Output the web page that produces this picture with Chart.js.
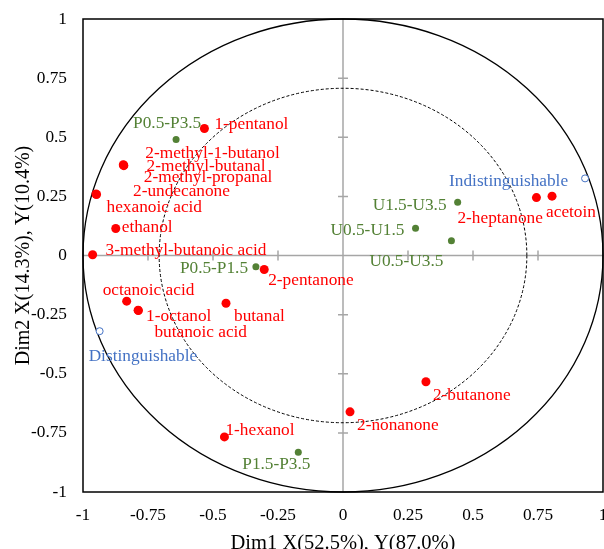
<!DOCTYPE html>
<html>
<head>
<meta charset="utf-8">
<script src="https://cdn.jsdelivr.net/npm/chart.js@4.4.1/dist/chart.umd.min.js"></script>
<style>
  html, body { margin: 0; padding: 0; background: #ffffff; }
  canvas { display: block; }
</style>
</head>
<body>
<canvas id="chart" width="604" height="549"></canvas>
<script>
'use strict';

const compoundNames = [
  '1-pentanol', '2-methyl-1-butanol', '2-methyl-butanal', '2-methyl-propanal',
  '2-undecanone', 'hexanoic acid', 'ethanol', '3-methyl-butanoic acid',
  '2-pentanone', 'octanoic acid', '1-octanol', 'butanoic acid', 'butanal',
  '1-hexanol', '2-butanone', '2-nonanone', '2-heptanone', 'acetoin',
];
const compoundX = [-0.533, -0.845, -0.844, -0.843, -0.950, -0.948, -0.874, -0.963,
  -0.303, -0.832, -0.788, -0.787, -0.450, -0.456, 0.319, 0.027, 0.744, 0.804];
const compoundY = [0.537, 0.384, 0.382, 0.380, 0.260, 0.258, 0.114, 0.003,
  -0.059, -0.193, -0.231, -0.233, -0.202, -0.767, -0.534, -0.661, 0.245, 0.251];

const treatmentNames = ['P0.5-P3.5', 'P0.5-P1.5', 'P1.5-P3.5', 'U1.5-U3.5', 'U0.5-U1.5', 'U0.5-U3.5'];
const treatmentX = [-0.642, -0.335, -0.172, 0.441, 0.279, 0.417];
const treatmentY = [0.490, -0.048, -0.832, 0.225, 0.115, 0.062];

const refNames = ['Indistinguishable', 'Distinguishable'];
const refX = [0.931, -0.936];
const refY = [0.326, -0.320];

const axisTicks = [-1, -0.75, -0.5, -0.25, 0, 0.25, 0.5, 0.75, 1];

// --- Posición de las etiquetas (desplazamiento en px desde el punto) ---
const compoundLabelDx = [10, 22, 23, 20, 37, 10, 6, 13, 4, -24, 8, 16, 8, 1, 7, 7, -79, -6];
const compoundLabelDy = [-6, -13, -1, 10, -5, 11, -3, -6, 9, -13, 4, 20, 11, -8, 12, 12, 19, 14];
const treatmentLabelDx = [-43, -76, -56, -85, -85, -82];
const treatmentLabelDy = [-18, 0, 10, 1, 0, 19];
const refLabelDx = [-136, -11];
const refLabelDy = [1, 23];

// --- Estilos ---
const FONT = "'Liberation Serif', 'Times New Roman', serif";
const RED = '#ff0000';
const GREEN = '#538135';
const BLUE = '#4472c4';
const AXIS_GRAY = '#a6a6a6';

const toPoints = (xs, ys) => xs.map((x, i) => ({ x, y: ys[i] }));

// Círculos, ejes en cero y marco
const backgroundPlugin = {
  id: 'background',
  beforeDatasetsDraw(chart) {
    const { ctx, chartArea: a, scales: { x, y } } = chart;
    const cx = x.getPixelForValue(0);
    const cy = y.getPixelForValue(0);
    const rx1 = x.getPixelForValue(1) - cx;
    const ry1 = cy - y.getPixelForValue(1);
    const r2 = Math.sqrt(0.5);
    const rx2 = x.getPixelForValue(r2) - cx;
    const ry2 = cy - y.getPixelForValue(r2);

    ctx.save();
    // ejes grises por cero
    ctx.strokeStyle = AXIS_GRAY;
    ctx.lineWidth = 1.5;
    ctx.beginPath();
    ctx.moveTo(a.left, cy); ctx.lineTo(a.right, cy);
    ctx.moveTo(cx, a.top); ctx.lineTo(cx, a.bottom);
    axisTicks.forEach(v => {
      if (v === 0 || Math.abs(v) === 1) return;
      const px = x.getPixelForValue(v);
      const py = y.getPixelForValue(v);
      ctx.moveTo(px, cy - 5); ctx.lineTo(px, cy + 5);
      ctx.moveTo(cx - 5, py); ctx.lineTo(cx + 5, py);
    });
    ctx.stroke();

    // círculo exterior (r = 1)
    ctx.strokeStyle = '#000000';
    ctx.lineWidth = 1.3;
    ctx.beginPath();
    ctx.ellipse(cx, cy, rx1, ry1, 0, 0, Math.PI * 2);
    ctx.stroke();

    // círculo interior discontinuo (r = sqrt(0.5))
    ctx.lineWidth = 1;
    ctx.setLineDash([3, 2]);
    ctx.beginPath();
    ctx.ellipse(cx, cy, rx2, ry2, 0, 0, Math.PI * 2);
    ctx.stroke();
    ctx.setLineDash([]);

    // marco
    ctx.lineWidth = 1.5;
    ctx.strokeRect(a.left, a.top, a.right - a.left, a.bottom - a.top);
    ctx.restore();
  },
};

// Etiquetas de texto junto a cada punto
const labelsPlugin = {
  id: 'pointLabels',
  afterDatasetsDraw(chart) {
    const { ctx } = chart;
    const sets = [
      { names: compoundNames, dx: compoundLabelDx, dy: compoundLabelDy, color: RED },
      { names: treatmentNames, dx: treatmentLabelDx, dy: treatmentLabelDy, color: GREEN },
      { names: refNames, dx: refLabelDx, dy: refLabelDy, color: BLUE },
    ];
    ctx.save();
    ctx.font = `17.3px ${FONT}`;
    ctx.textAlign = 'left';
    ctx.textBaseline = 'middle';
    sets.forEach((s, di) => {
      const meta = chart.getDatasetMeta(di);
      ctx.fillStyle = s.color;
      meta.data.forEach((pt, i) => {
        // +2: 'middle' queda algo alto respecto al centro visual del texto
        ctx.fillText(s.names[i], pt.x + s.dx[i], pt.y + s.dy[i] + 2);
      });
    });
    ctx.restore();
  },
};

const tickFmt = v => String(+Number(v).toFixed(2));

new Chart(document.getElementById('chart'), {
  type: 'scatter',
  data: {
    datasets: [
      {
        label: 'compounds',
        data: toPoints(compoundX, compoundY),
        backgroundColor: RED,
        borderColor: RED,
        borderWidth: 0,
        pointRadius: 4.5,
      },
      {
        label: 'treatments',
        data: toPoints(treatmentX, treatmentY),
        backgroundColor: GREEN,
        borderColor: GREEN,
        borderWidth: 0,
        pointRadius: 3.5,
      },
      {
        label: 'reference',
        data: toPoints(refX, refY),
        backgroundColor: '#ffffff',
        borderColor: BLUE,
        borderWidth: 1,
        pointRadius: 3.5,
      },
    ],
  },
  options: {
    responsive: false,
    animation: false,
    devicePixelRatio: 1,
    layout: { autoPadding: false, padding: { top: 19, right: 1, left: 0, bottom: 0 } },
    plugins: {
      legend: { display: false },
      tooltip: { enabled: false },
    },
    scales: {
      x: {
        type: 'linear',
        min: -1, max: 1,
        afterBuildTicks: s => { s.ticks = axisTicks.map(value => ({ value })); },
        afterFit: s => { s.height = 57; s.paddingLeft = 0; s.paddingRight = 0; },
        grid: { display: false, drawTicks: false },
        border: { display: false },
        ticks: {
          padding: 13,
          color: '#000000',
          font: { family: FONT, size: 17.3 },
          maxRotation: 0,
          autoSkip: false,
          callback: tickFmt,
        },
        title: {
          display: true,
          text: 'Dim1 X(52.5%), Y(87.0%)',
          color: '#000000',
          font: { family: FONT, size: 20.5 },
          padding: { top: 0, bottom: -7 },
        },
      },
      y: {
        type: 'linear',
        min: -1, max: 1,
        afterBuildTicks: s => { s.ticks = axisTicks.map(value => ({ value })); },
        afterFit: s => { s.width = 83; s.paddingTop = 0; s.paddingBottom = 0; },
        grid: { display: false, drawTicks: false },
        border: { display: false },
        ticks: {
          padding: 16,
          color: '#000000',
          font: { family: FONT, size: 17.3 },
          autoSkip: false,
          callback: tickFmt,
        },
        title: {
          display: true,
          text: 'Dim2 X(14.3%), Y(10.4%)',
          color: '#000000',
          font: { family: FONT, size: 20 },
          padding: { top: 12, bottom: 0 },
        },
      },
    },
  },
  plugins: [backgroundPlugin, labelsPlugin],
});
</script>
</body>
</html>
